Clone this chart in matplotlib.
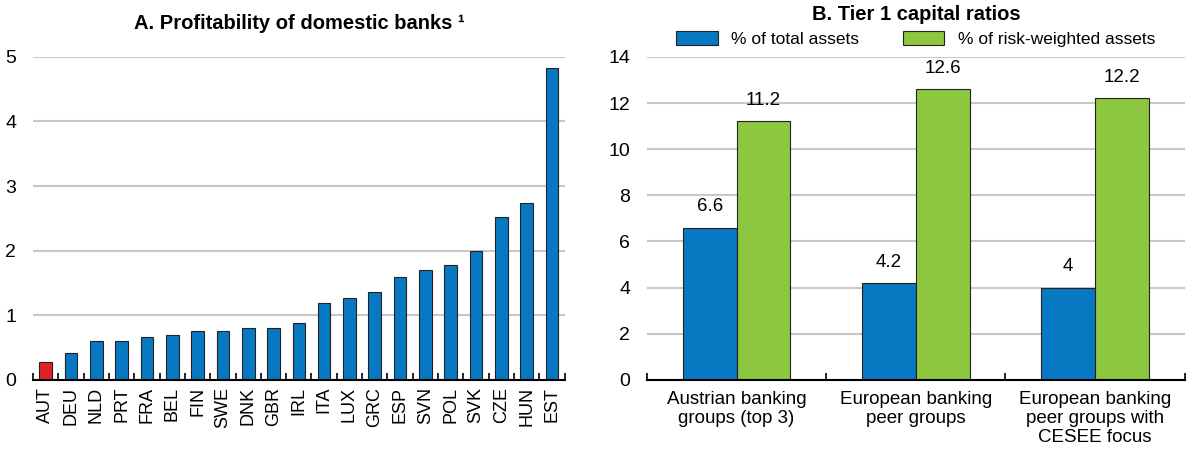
import matplotlib
matplotlib.use('Agg')
import matplotlib.pyplot as plt
import numpy as np

plt.rcParams['font.family'] = ['Liberation Sans', 'DejaVu Sans']

# Panel A data
countries = ['AUT', 'DEU', 'NLD', 'PRT', 'FRA', 'BEL', 'FIN', 'SWE', 'DNK', 'GBR',
             'IRL', 'ITA', 'LUX', 'GRC', 'ESP', 'SVN', 'POL', 'SVK', 'CZE', 'HUN', 'EST']
profit = [0.28, 0.41, 0.60, 0.60, 0.67, 0.69, 0.75, 0.76, 0.80, 0.81,
          0.88, 1.19, 1.27, 1.36, 1.60, 1.70, 1.78, 2.00, 2.52, 2.74, 4.83]

# Panel B data
groups = ['Austrian banking\ngroups (top 3)', 'European banking\npeer groups',
          'European banking\npeer groups with\nCESEE focus']
total_assets = [6.6, 4.2, 4.0]
risk_weighted = [11.2, 12.6, 12.2]
total_labels = ['6.6', '4.2', '4']
rw_labels = ['11.2', '12.6', '12.2']

blue = '#0778C2'
green = '#8DC63F'
red = '#E02128'
grid_c = '#C8C8C8'

fig = plt.figure(figsize=(11.92, 4.55), dpi=100)
axA = fig.add_axes([0.0277, 0.165, 0.446, 0.71])
axB = fig.add_axes([0.5428, 0.165, 0.451, 0.71])


def style(ax, n):
    for s in ['left', 'right', 'top']:
        ax.spines[s].set_visible(False)
    ax.spines['bottom'].set_linewidth(1.5)
    ax.yaxis.grid(True, color=grid_c, linewidth=1.5)
    ax.set_axisbelow(True)
    ax.tick_params(axis='y', length=0, labelsize=14, pad=12)
    ax.set_xticks(np.arange(n + 1) - 0.5, minor=True)
    ax.tick_params(axis='x', which='minor', direction='in', length=5, width=1.2)
    ax.tick_params(axis='x', which='major', length=0)
    ax.set_xlim(-0.5, n - 0.5)


# Panel A
x = np.arange(len(countries))
colors = [red] + [blue] * (len(countries) - 1)
axA.bar(x, profit, width=0.5, color=colors, edgecolor='#222222', linewidth=0.8)
style(axA, len(countries))
axA.set_ylim(0, 5)
axA.set_yticks(range(0, 6))
axA.set_xticks(x)
axA.set_xticklabels(countries, rotation=90, fontsize=13)
axA.tick_params(axis='x', which='major', pad=5)
axA.set_title('A. Profitability of domestic banks \u00b9', fontsize=14.5, fontweight='bold', pad=20)

# Panel B
xb = np.arange(len(groups))
w = 0.3
b1 = axB.bar(xb - w / 2, total_assets, width=w, color=blue, edgecolor='#222222',
             linewidth=0.8, label='% of total assets')
b2 = axB.bar(xb + w / 2, risk_weighted, width=w, color=green, edgecolor='#222222',
             linewidth=0.8, label='% of risk-weighted assets')
axB.bar_label(b1, labels=total_labels, padding=9, fontsize=13.5)
axB.bar_label(b2, labels=rw_labels, padding=9, fontsize=13.5)
style(axB, len(groups))
axB.set_ylim(0, 14)
axB.set_yticks(range(0, 15, 2))
axB.set_xticks(xb)
axB.set_xticklabels(groups, fontsize=13.5, linespacing=1.15)
axB.tick_params(axis='x', which='major', pad=8)
fig.text(0.5428 + 0.451 / 2, 0.969, 'B. Tier 1 capital ratios', fontsize=14.5,
         fontweight='bold', ha='center', va='center')
axB.legend(loc='lower center', bbox_to_anchor=(0.5, 1.015), ncol=2, frameon=False,
           fontsize=12.5, handlelength=2.4, handleheight=0.9, columnspacing=2.5,
           borderaxespad=0, borderpad=0.3)

fig.savefig('out.png', dpi=100)
